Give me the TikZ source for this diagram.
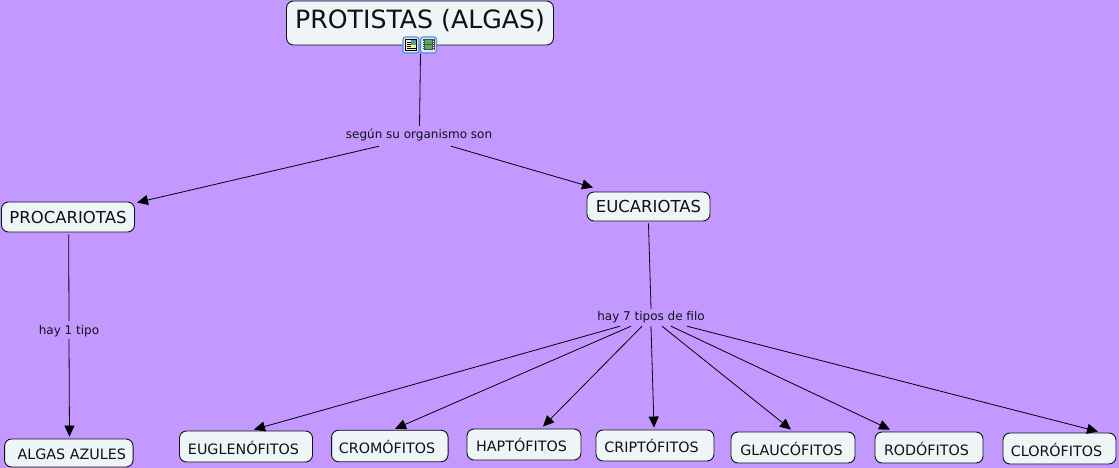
\documentclass[tikz,border=0pt]{standalone}
\usepackage{fontspec}
\setmainfont{DejaVu Sans}
\usetikzlibrary{arrows.meta}
\definecolor{bgc}{HTML}{C499FF}
\definecolor{boxc}{HTML}{EEF5F7}
\definecolor{inkc}{HTML}{101018}
\definecolor{iconb}{HTML}{4F8FD8}
\definecolor{iconf}{HTML}{D6E8FA}
\definecolor{pagec}{HTML}{FBF7B0}
\definecolor{filmc}{HTML}{5FA85F}
\newcommand{\offtext}[3]{\raisebox{#2}[0pt][0pt]{\hspace*{#1}#3}}
\tikzset{
  x=1pt,y=-1pt,
  conbox/.style={draw=inkc,fill=boxc,rounded corners=7pt,line width=0.9pt,inner sep=0pt,text=inkc,anchor=center},
  big/.style={conbox,font=\fontsize{16.5}{19}\selectfont},
  small/.style={conbox,font=\fontsize{14.3}{17}\selectfont},
  lab/.style={inner sep=0pt,font=\fontsize{12}{14}\selectfont,text=inkc,minimum height=24pt},
  link/.style={draw=black,line width=0.8pt},
  arrow/.style={link,-{Triangle[length=11pt,width=10pt]}},
  iconbox/.style={draw=iconb,fill=iconf,rounded corners=2.5pt,line width=1.1pt,inner sep=0pt,minimum width=16pt,minimum height=16pt}
}
\begin{document}
\begin{tikzpicture}
\useasboundingbox (0,0) rectangle (1119,468);
\fill[bgc] (0,0) rectangle (1119,468);
% boxes
\node[conbox,minimum width=267pt,minimum height=44pt,font=\fontsize{25.2}{28}\selectfont] (title) at (420,23) {\offtext{0pt}{-6pt}{PROTISTAS (ALGAS)}};
\node[big,minimum width=133pt,minimum height=30pt] (proc) at (68,217) {\offtext{0pt}{-6pt}{PROCARIOTAS}};
\node[big,minimum width=123pt,minimum height=29pt] (euc) at (648.5,206.5) {\offtext{0pt}{-6pt}{EUCARIOTAS}};
\node[small,minimum width=128.5pt,minimum height=28pt] (azul) at (68.8,453) {\offtext{6pt}{-6pt}{ALGAS AZULES}};
\node[small,minimum width=133pt,minimum height=31pt] (eug) at (246,446.5) {\offtext{-5pt}{-8pt}{EUGLENÓFITOS}};
\node[small,minimum width=116.5pt,minimum height=31.5pt] (cro) at (389.8,446) {\offtext{-5.5pt}{-7.5pt}{CROMÓFITOS}};
\node[small,minimum width=114pt,minimum height=31pt] (hap) at (524,444.5) {\offtext{-5pt}{-7pt}{HAPTÓFITOS}};
\node[small,minimum width=118pt,minimum height=31pt] (cri) at (655,445.5) {\offtext{-7pt}{-7pt}{CRIPTÓFITOS}};
\node[small,minimum width=124pt,minimum height=31pt] (gla) at (793,447.5) {\offtext{-3pt}{-7.5pt}{GLAUCÓFITOS}};
\node[small,minimum width=108pt,minimum height=31pt] (rod) at (929,447.5) {\offtext{-5pt}{-7.5pt}{RODÓFITOS}};
\node[small,minimum width=113pt,minimum height=31pt] (clo) at (1059.5,448.5) {\offtext{-6pt}{-7.5pt}{CLORÓFITOS}};
% icons
\node[iconbox] (ic1) at (411,45) {};
\node[iconbox] (ic2) at (428.5,45) {};
\fill[pagec,draw=black,line width=0.5pt] (405.5,39.5) rectangle (416.5,50.5);
\fill[iconb] (411,40) rectangle (416,45);
\fill[filmc] (413,42) rectangle (416,45);
\foreach \yy in {42,44,46}{\draw[black,line width=0.5pt] (406.5,\yy) -- (410.5,\yy);}
\draw[black,line width=0.5pt] (406.5,48) -- (415.5,48);
\fill[black!70] (422.5,39.5) rectangle (434.5,50.5);
\fill[filmc] (425,40.5) rectangle (432,44.5);
\fill[filmc] (425,45.5) rectangle (432,49.5);
\foreach \yy in {41,43,45,47,49}{\fill[white] (423,\yy) rectangle (424.2,\yy+1);\fill[white] (432.8,\yy) rectangle (434,\yy+1);}
% link labels
\node[lab] (l1) at (419,134) {\offtext{0pt}{-4.5pt}{según su organismo son}};
\node[lab] (l2) at (69,329.5) {\offtext{0pt}{-4.5pt}{hay 1 tipo}};
\node[lab] (l3) at (651,316) {\offtext{0pt}{-4.5pt}{hay 7 tipos de filo}};
% connectors
\draw[link] ([xshift=9.5pt]ic1.south) -- ([xshift=0.5pt,yshift=-4pt]l1.north);
\draw[arrow] ([xshift=-40pt]l1.south) -- ([xshift=69pt,yshift=-1pt]proc.north);
\draw[arrow] ([xshift=32pt]l1.south) -- ([xshift=-55.5pt,yshift=4pt]euc.north);
\draw[link] ([xshift=0.7pt,yshift=-2pt]proc.south) -- ([yshift=-3.5pt]l2.north);
\draw[arrow] ([yshift=2.5pt]l2.south) -- ([xshift=0.7pt,yshift=2pt]azul.north);
\draw[link] ([yshift=-2pt]euc.south) -- ([yshift=-5pt]l3.north);
\draw[arrow] ([xshift=-31pt,yshift=2pt]l3.south) -- ([xshift=8pt,yshift=1pt]eug.north);
\draw[arrow] ([xshift=-20pt,yshift=2pt]l3.south) -- ([xshift=5.2pt,yshift=1pt]cro.north);
\draw[arrow] ([xshift=-9pt,yshift=2pt]l3.south) -- ([xshift=19pt,yshift=2pt]hap.north);
\draw[arrow] ([xshift=0pt,yshift=2pt]l3.south) -- ([xshift=-1pt,yshift=2pt]cri.north);
\draw[arrow] ([xshift=11pt,yshift=2pt]l3.south) -- ([xshift=-2pt,yshift=2pt]gla.north);
\draw[arrow] ([xshift=20pt,yshift=2pt]l3.south) -- ([xshift=-39pt,yshift=2pt]rod.north);
\draw[arrow] ([xshift=36pt,yshift=2pt]l3.south) -- ([xshift=38.5pt,yshift=1pt]clo.north);
\end{tikzpicture}
\end{document}
